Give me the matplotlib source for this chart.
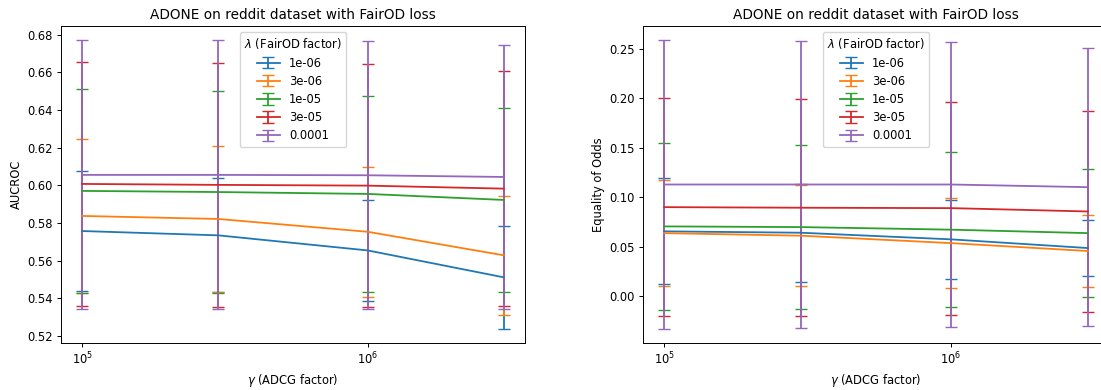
import matplotlib
matplotlib.use("Agg")
import matplotlib.pyplot as plt
from matplotlib.ticker import NullLocator

# ADCG factor (gamma) values on the x axis
gammas = [1e5, 3e5, 1e6, 3e6]
# FairOD factor (lambda) series
lambda_labels = ["1e-06", "3e-06", "1e-05", "3e-05", "0.0001"]

# AUCROC mean and std per lambda, across gammas
auc_mean_1e6 = [0.5758, 0.5735, 0.5655, 0.5512]
auc_mean_3e6 = [0.5838, 0.5822, 0.5754, 0.5629]
auc_mean_1e5 = [0.5971, 0.5965, 0.5955, 0.5923]
auc_mean_3e5 = [0.6008, 0.6003, 0.5999, 0.5983]
auc_mean_1e4 = [0.6056, 0.6056, 0.6054, 0.6045]
auc_std_1e6 = [0.0321, 0.0303, 0.0266, 0.0272]
auc_std_3e6 = [0.0407, 0.0388, 0.0344, 0.0315]
auc_std_1e5 = [0.0542, 0.0534, 0.0519, 0.0487]
auc_std_3e5 = [0.0648, 0.0648, 0.0645, 0.0624]
auc_std_1e4 = [0.0714, 0.0714, 0.0711, 0.0702]

# Equality of Odds mean and std per lambda, across gammas
eo_mean_1e6 = [0.0655, 0.0641, 0.0574, 0.0486]
eo_mean_3e6 = [0.0637, 0.0611, 0.0536, 0.0456]
eo_mean_1e5 = [0.0705, 0.0698, 0.0672, 0.0637]
eo_mean_3e5 = [0.0900, 0.0894, 0.0890, 0.0856]
eo_mean_1e4 = [0.1129, 0.1129, 0.1129, 0.1102]
eo_std_1e6 = [0.0535, 0.0494, 0.0401, 0.0283]
eo_std_3e6 = [0.0536, 0.0511, 0.0459, 0.0367]
eo_std_1e5 = [0.0841, 0.0830, 0.0781, 0.0644]
eo_std_3e5 = [0.1105, 0.1097, 0.1078, 0.1018]
eo_std_1e4 = [0.1458, 0.1452, 0.1442, 0.1408]

auc_means = [auc_mean_1e6, auc_mean_3e6, auc_mean_1e5, auc_mean_3e5, auc_mean_1e4]
auc_stds = [auc_std_1e6, auc_std_3e6, auc_std_1e5, auc_std_3e5, auc_std_1e4]
eo_means = [eo_mean_1e6, eo_mean_3e6, eo_mean_1e5, eo_mean_3e5, eo_mean_1e4]
eo_stds = [eo_std_1e6, eo_std_3e6, eo_std_1e5, eo_std_3e5, eo_std_1e4]

colors = ["#1f77b4", "#ff7f0e", "#2ca02c", "#d62728", "#9467bd"]

plt.rcParams["font.size"] = 8.3
plt.rcParams["axes.titlesize"] = 9.8
plt.rcParams["axes.labelsize"] = 8.3
plt.rcParams["xtick.labelsize"] = 8.3
plt.rcParams["ytick.labelsize"] = 8.3
plt.rcParams["legend.fontsize"] = 8.3
plt.rcParams["legend.title_fontsize"] = 8.3
plt.rcParams["axes.labelpad"] = 3.3
for axis in ("xtick", "ytick"):
    plt.rcParams[f"{axis}.major.size"] = 2.9
    plt.rcParams[f"{axis}.major.pad"] = 2.9
    plt.rcParams[f"{axis}.major.width"] = 0.7
plt.rcParams["axes.linewidth"] = 0.7

W, H = 1101, 390
fig = plt.figure(figsize=(W / 100, H / 100), dpi=100)
ax1 = fig.add_axes([61 / W, 47 / H, 464 / W, 317 / H])
ax2 = fig.add_axes([643 / W, 47 / H, 466 / W, 317 / H])


def draw(ax, means, stds, ylabel):
    for lab, m, s, c in zip(lambda_labels, means, stds, colors):
        ax.errorbar(gammas, m, yerr=s, label=lab, color=c, capsize=4,
                    linewidth=1.3, elinewidth=1.3, capthick=1.0)
    ax.set_xscale("log")
    ax.xaxis.set_minor_locator(NullLocator())
    ax.set_title("ADONE on reddit dataset with FairOD loss", pad=5)
    ax.set_xlabel(r"$\gamma$ (ADCG factor)")
    ax.set_ylabel(ylabel)
    ax.legend(title=r"$\lambda$ (FairOD factor)", loc="upper center",
              labelspacing=0.45)


draw(ax1, auc_means, auc_stds, "AUCROC")
draw(ax2, eo_means, eo_stds, "Equality of Odds")

fig.savefig("out.png", dpi=100)
